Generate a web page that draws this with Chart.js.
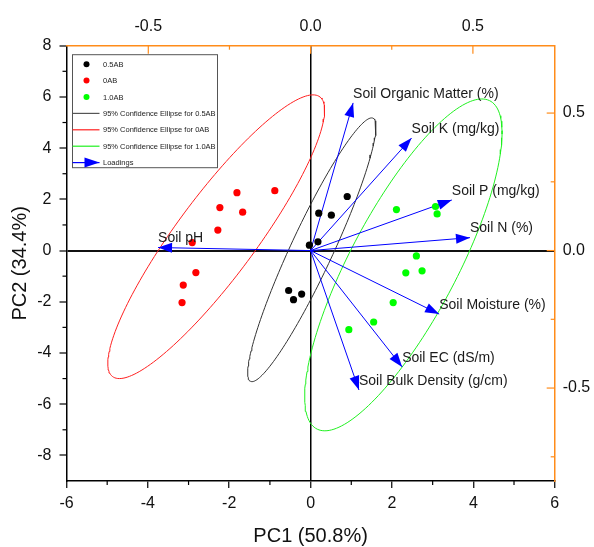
<!DOCTYPE html>
<html>
<head>
<meta charset="utf-8">
<script src="https://cdn.jsdelivr.net/npm/chart.js@4.4.1/dist/chart.umd.min.js"></script>
<style>
  html, body { margin: 0; padding: 0; background: #fff; }
  #wrap { width: 594px; height: 547px; }
</style>
</head>
<body>
<div id="wrap"><canvas id="biplot" width="594" height="547"></canvas></div>
<script>
// axis ticks
const xTicks = [-6, -4, -2, 0, 2, 4, 6];
const yTicks = [-8, -6, -4, -2, 0, 2, 4, 6, 8];
const xMinorTicks = [-5, -3, -1, 1, 3, 5];
const yMinorTicks = [-7, -5, -3, -1, 1, 3, 5, 7];
const topTicks = [-0.5, 0, 0.5];
const topMinorTicks = [-0.25, 0.25];
const rightTicks = [-0.5, 0, 0.5];
const rightMinorTicks = [-0.75, -0.25, 0.25];

// scores (PC1, PC2) per group
const groupLabels = ["0.5AB", "0AB", "1.0AB"];
const pc1_05AB = [0.90, 0.20, 0.51, -0.03, 0.18, -0.54, -0.42, -0.22];
const pc2_05AB = [2.11, 1.46, 1.38, 0.21, 0.34, -1.56, -1.92, -1.70];
const pc1_0AB = [-1.81, -0.88, -2.23, -1.67, -2.28, -2.91, -2.82, -3.13, -3.16];
const pc2_0AB = [2.26, 2.34, 1.68, 1.50, 0.80, 0.31, -0.86, -1.35, -2.03];
const pc1_10AB = [2.11, 3.07, 3.11, 2.60, 2.34, 2.74, 2.03, 1.55, 0.94];
const pc2_10AB = [1.60, 1.72, 1.43, -0.21, -0.87, -0.79, -2.03, -2.79, -3.09];

// 95% confidence ellipses: centre, half-diameter to the top point, horizontal half-width (score units)
const ellipseCentre = [[0.03, 0.03], [-2.32, 0.54], [2.28, -0.56]];
const ellipseMajor = [[1.47, 5.15], [2.38, 5.54], [1.93, 6.48]];
const ellipseMinor = [[0.57, 0], [1.20, 0], [1.47, 0]];

// loadings (top / right axes)
const loadingNames = ["Soil Organic Matter (%)", "Soil K (mg/kg)", "Soil P (mg/kg)", "Soil N (%)",
  "Soil Moisture (%)", "Soil EC (dS/m)", "Soil Bulk Density (g/cm)", "Soil pH"];
const loadingPC1 = [0.131, 0.311, 0.435, 0.491, 0.396, 0.282, 0.149, -0.470];
const loadingPC2 = [0.537, 0.409, 0.184, 0.047, -0.231, -0.423, -0.507, 0.011];

const groupColors = ["#000000", "#ff0000", "#00ff00"];
const ellipseColors = ["#333333", "#ff2020", "#20f020"];
const arrowColor = "#0000ff";
const orange = "#ff8c1a";

function toPoints(xs, ys) {
  return xs.map((x, i) => ({ x: x, y: ys[i] }));
}

function ellipseOutline(c, a, b) {
  const pts = [];
  for (let i = 0; i <= 180; i++) {
    const t = (i / 180) * Math.PI * 2;
    pts.push({
      x: c[0] + a[0] * Math.cos(t) + b[0] * Math.sin(t),
      y: c[1] + a[1] * Math.cos(t) + b[1] * Math.sin(t)
    });
  }
  return pts;
}

const scoreX = [pc1_05AB, pc1_0AB, pc1_10AB];
const scoreY = [pc2_05AB, pc2_0AB, pc2_10AB];

const datasets = [];

// points on top
groupLabels.forEach((label, g) => {
  datasets.push({
    label: label,
    data: toPoints(scoreX[g], scoreY[g]),
    backgroundColor: groupColors[g],
    borderWidth: 0,
    pointRadius: 3.6,
    showLine: false
  });
});

// loadings
loadingNames.forEach((name, i) => {
  datasets.push({
    label: name,
    data: [{ x: 0, y: 0 }, { x: loadingPC1[i], y: loadingPC2[i] }],
    xAxisID: "x2",
    yAxisID: "y2",
    borderColor: arrowColor,
    borderWidth: 1,
    pointRadius: 0,
    showLine: true
  });
});

// ellipses
groupLabels.forEach((label, g) => {
  datasets.push({
    label: "95% Confidence Ellipse for " + label,
    data: ellipseOutline(ellipseCentre[g], ellipseMajor[g], ellipseMinor[g]),
    borderColor: ellipseColors[g],
    borderWidth: 1,
    pointRadius: 0,
    showLine: true,
    tension: 0
  });
});

function drawArrowHead(ctx, x0, y0, x1, y1, len, half) {
  const ang = Math.atan2(y1 - y0, x1 - x0);
  const cos = Math.cos(ang), sin = Math.sin(ang);
  ctx.beginPath();
  ctx.moveTo(x1, y1);
  ctx.lineTo(x1 - len * cos - half * sin, y1 - len * sin + half * cos);
  ctx.lineTo(x1 - len * cos + half * sin, y1 - len * sin - half * cos);
  ctx.closePath();
  ctx.fill();
}

function tickLine(ctx, x1, y1, x2, y2, color) {
  ctx.strokeStyle = color;
  ctx.lineWidth = 1.2;
  ctx.beginPath();
  ctx.moveTo(x1, y1);
  ctx.lineTo(x2, y2);
  ctx.stroke();
}

const biplotExtras = {
  id: "biplotExtras",
  afterDatasetsDraw(chart) {
    const { ctx } = chart;
    const sx = chart.scales.x2, sy = chart.scales.y2;
    const ox = sx.getPixelForValue(0), oy = sy.getPixelForValue(0);
    ctx.save();
    ctx.fillStyle = arrowColor;
    loadingNames.forEach((name, i) => {
      const px = sx.getPixelForValue(loadingPC1[i]);
      const py = sy.getPixelForValue(loadingPC2[i]);
      drawArrowHead(ctx, ox, oy, px, py, 14, 5);
    });
    ctx.fillStyle = "#1a1a1a";
    ctx.font = "14px 'Liberation Sans', Arial, sans-serif";
    ctx.textAlign = "left";
    ctx.textBaseline = "middle";
    loadingNames.forEach((name, i) => {
      const px = sx.getPixelForValue(loadingPC1[i]);
      const py = sy.getPixelForValue(loadingPC2[i]);
      ctx.fillText(name, px, py - 9);
    });
    ctx.restore();
  },
  afterDraw(chart) {
    const { ctx, chartArea: area, scales } = chart;
    ctx.save();
    // minor ticks on left / bottom, outward
    xMinorTicks.forEach(v => {
      const p = scales.x.getPixelForValue(v);
      tickLine(ctx, p, area.bottom, p, area.bottom + 4, "#000");
    });
    yMinorTicks.forEach(v => {
      const p = scales.y.getPixelForValue(v);
      tickLine(ctx, area.left - 4, p, area.left, p, "#000");
    });
    // top / right ticks point inward
    topTicks.forEach(v => {
      const p = scales.x2.getPixelForValue(v);
      tickLine(ctx, p, area.top, p, area.top + 8, orange);
    });
    topMinorTicks.forEach(v => {
      const p = scales.x2.getPixelForValue(v);
      tickLine(ctx, p, area.top, p, area.top + 4, orange);
    });
    rightTicks.forEach(v => {
      const p = scales.y2.getPixelForValue(v);
      tickLine(ctx, area.right - 8, p, area.right, p, orange);
    });
    rightMinorTicks.forEach(v => {
      const p = scales.y2.getPixelForValue(v);
      tickLine(ctx, area.right - 4, p, area.right, p, orange);
    });

    // legend box
    const x0 = area.left + 6, y0 = area.top + 9;
    const w = 145, h = 113, rowH = 16.4;
    ctx.fillStyle = "#fff";
    ctx.fillRect(x0, y0, w, h);
    ctx.strokeStyle = "#555";
    ctx.lineWidth = 1;
    ctx.strokeRect(x0, y0, w, h);
    ctx.font = "7.5px 'Liberation Sans', Arial, sans-serif";
    ctx.textAlign = "left";
    ctx.textBaseline = "middle";
    const items = [];
    groupLabels.forEach((g, i) => items.push({ kind: "dot", color: groupColors[i], text: g }));
    groupLabels.forEach((g, i) => items.push({ kind: "line", color: i === 0 ? "#555" : ellipseColors[i], text: "95% Confidence Ellipse for " + g }));
    items.push({ kind: "arrow", color: arrowColor, text: "Loadings" });
    items.forEach((it, i) => {
      const cy = y0 + 9.5 + i * rowH;
      if (it.kind === "dot") {
        ctx.fillStyle = it.color;
        ctx.beginPath();
        ctx.arc(x0 + 14, cy, 3, 0, Math.PI * 2);
        ctx.fill();
      } else {
        ctx.strokeStyle = it.color;
        ctx.lineWidth = 1.2;
        ctx.beginPath();
        ctx.moveTo(x0, cy);
        ctx.lineTo(x0 + 27, cy);
        ctx.stroke();
        if (it.kind === "arrow") {
          ctx.fillStyle = it.color;
          drawArrowHead(ctx, x0, cy, x0 + 27, cy, 15, 5);
        }
      }
      ctx.fillStyle = "#222";
      ctx.fillText(it.text, x0 + 30.5, cy + 0.5);
    });
    ctx.restore();
  }
};

const tickFont = { size: 16 };

new Chart(document.getElementById("biplot"), {
  type: "scatter",
  data: { datasets: datasets },
  plugins: [biplotExtras],
  options: {
    responsive: false,
    devicePixelRatio: 1,
    animation: false,
    layout: { padding: 0 },
    plugins: {
      legend: { display: false },
      tooltip: { enabled: false }
    },
    scales: {
      x: {
        type: "linear",
        position: "bottom",
        min: -6,
        max: 6,
        afterBuildTicks: s => { s.ticks = xTicks.map(v => ({ value: v })); },
        afterFit: s => { s.height = 66; },
        ticks: { padding: 6, font: tickFont, color: "#111", callback: v => String(v) },
        grid: {
          color: c => (c.tick && c.tick.value === 0 ? "#000" : "rgba(0,0,0,0)"),
          lineWidth: 1.5,
          tickColor: "#000",
          tickWidth: 1.2,
          tickLength: 7
        },
        border: { color: "#000", width: 1.5 },
        title: { display: true, text: "PC1 (50.8%)", color: "#111", font: { size: 20, lineHeight: 1.1 }, padding: { top: 0, bottom: 0 } }
      },
      y: {
        type: "linear",
        position: "left",
        min: -9,
        max: 8,
        afterBuildTicks: s => { s.ticks = yTicks.map(v => ({ value: v })); },
        afterFit: s => { s.width = 66.5; },
        ticks: { padding: 8, font: tickFont, color: "#111", callback: v => String(v) },
        grid: {
          color: c => (c.tick && c.tick.value === 0 ? "#111" : "rgba(0,0,0,0)"),
          lineWidth: 2,
          tickColor: "#000",
          tickWidth: 1.2,
          tickLength: 7
        },
        border: { color: "#000", width: 1.5 },
        title: { display: true, text: "PC2 (34.4%)", color: "#111", font: { size: 20, lineHeight: 1.2 }, padding: { top: 8, bottom: 0 } }
      },
      x2: {
        type: "linear",
        position: "top",
        min: -0.752,
        max: 0.752,
        afterBuildTicks: s => { s.ticks = topTicks.map(v => ({ value: v })); },
        afterFit: s => { s.height = 45.7; },
        ticks: { padding: 10, font: tickFont, color: "#111", callback: v => v.toFixed(1) },
        grid: { display: false, drawTicks: false },
        border: { color: orange, width: 1.5 }
      },
      y2: {
        type: "linear",
        position: "right",
        min: -0.838,
        max: 0.745,
        afterBuildTicks: s => { s.ticks = rightTicks.map(v => ({ value: v })); },
        afterFit: s => { s.width = 39.3; },
        ticks: { padding: 8, font: tickFont, color: "#111", callback: v => v.toFixed(1) },
        grid: { display: false, drawTicks: false },
        border: { color: orange, width: 1.5 }
      }
    }
  }
});
</script>
</body>
</html>
